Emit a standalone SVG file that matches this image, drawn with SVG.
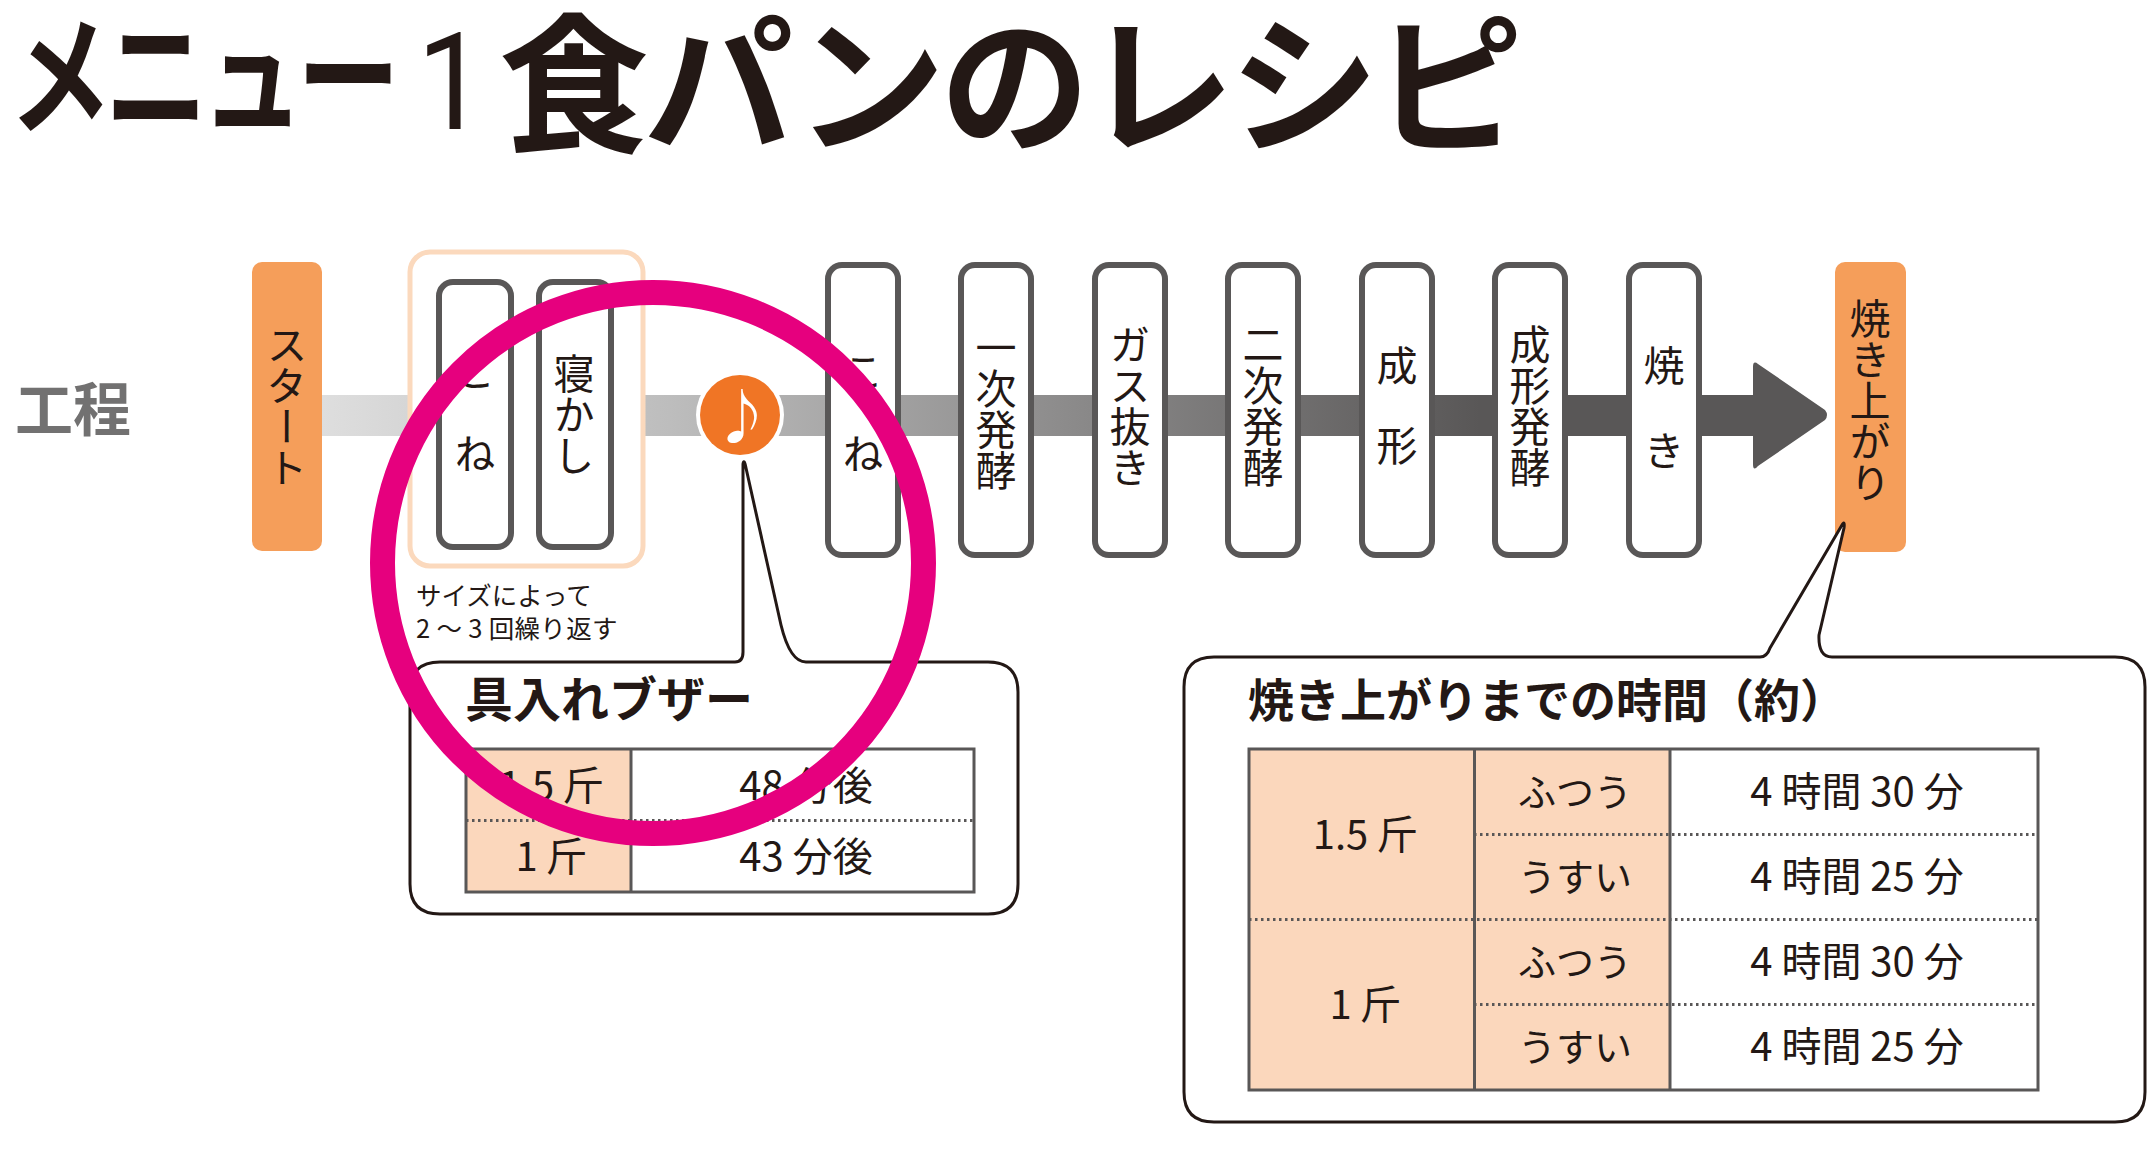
<svg xmlns="http://www.w3.org/2000/svg" width="2156" height="1150" viewBox="0 0 2156 1150">
<style>
text{font-family:"Noto Sans CJK JP","Noto Sans",sans-serif;fill:#231815}
.v{writing-mode:vertical-rl;text-orientation:mixed;font-size:41px;text-anchor:middle}
.step{fill:#fff;stroke:#595757;stroke-width:6}
.cap{fill:#f59e5a}
.call{fill:#fff;stroke:#231815;stroke-width:3;stroke-linejoin:round}
.peach{fill:#fbd7bc}
.grid{fill:none;stroke:#595757;stroke-width:3}
.dot{stroke:#595757;stroke-width:3;stroke-dasharray:2.5 3.5;fill:none}
.t{font-size:40px;text-anchor:middle}
.k{font-size:38px;text-anchor:middle}
.h{font-weight:700}
#title text{font-family:"Liberation Sans","Noto Sans CJK JP",sans-serif}
#title text.num{font-family:Roboto,sans-serif}
</style>
<defs>
<linearGradient id="flow" gradientUnits="userSpaceOnUse" x1="322" y1="0" x2="1480" y2="0">
<stop offset="0" stop-color="#dedede"/><stop offset="0.3" stop-color="#bdbdbd"/><stop offset="1" stop-color="#595757"/>
</linearGradient>
</defs>
<rect width="2156" height="1150" fill="#fff"/>
<g id="title">
<text transform="translate(9,124) scale(1,1.27)" font-size="103" class="h" letter-spacing="-7">メニュー</text>
<text class="num" transform="translate(417,129) scale(0.9,1)" font-size="136">1</text>
<text x="499" y="141" font-size="150" class="h" letter-spacing="-5.500">食パンのレシピ</text>
</g>
<text id="label-koutei" x="15" y="431" font-size="58" class="h" style="fill:#727171">工程</text>
<g id="connectors">
<rect x="322" y="395" width="1435" height="41" fill="url(#flow)"/>
<path d="M1753 367Q1753 360 1758 364L1825 410Q1829 415 1825 420L1758 466Q1753 472 1753 464Z" fill="#595757"/>
</g>
<g id="node-start"><rect class="cap" x="252" y="262" width="70" height="289" rx="10"/><text class="v" x="287" y="406">スタート</text></g>
<g id="node-repeat"><rect x="410" y="252" width="233" height="314" rx="20" fill="#fff" stroke="#fbd9bd" stroke-width="5"/>
<text x="416" y="605" font-size="25.500">サイズによって</text><text x="416" y="638" font-size="25.500" letter-spacing="0.300">2 ～ 3 回繰り返す</text></g>
<g id="node-kone1"><rect class="step" x="439" y="282" width="72" height="265" rx="14"/><text class="v" x="475" y="433" style="letter-spacing:41px">こね</text></g>
<g id="node-nekashi"><rect class="step" x="539" y="282" width="72" height="265" rx="14"/><text class="v" x="574" y="414">寝かし</text></g>
<g id="node-buzzer"><circle cx="740" cy="415" r="44" fill="#fff"/><circle cx="740" cy="415" r="40" fill="#f07525"/><text x="742" y="438" font-size="58" text-anchor="middle" style="fill:#fff">♪</text></g>
<g id="node-kone2"><rect class="step" x="828" y="265" width="70" height="290" rx="14"/><text class="v" x="863" y="433" style="letter-spacing:41px">こね</text></g>
<g id="node-ichiji"><rect class="step" x="961" y="265" width="70" height="290" rx="14"/><text class="v" x="996" y="409">一次発酵</text></g>
<g id="node-gas"><rect class="step" x="1095" y="265" width="70" height="290" rx="14"/><text class="v" x="1130" y="406">ガス抜き</text></g>
<g id="node-niji"><rect class="step" x="1228" y="265" width="70" height="290" rx="14"/><text class="v" x="1263" y="406">二次発酵</text></g>
<g id="node-seikei"><rect class="step" x="1362" y="265" width="70" height="290" rx="14"/><text class="v" x="1397" y="425" style="letter-spacing:39px">成形</text></g>
<g id="node-seikeihakko"><rect class="step" x="1495" y="265" width="70" height="290" rx="14"/><text class="v" x="1530" y="406">成形発酵</text></g>
<g id="node-yaki"><rect class="step" x="1629" y="265" width="70" height="290" rx="14"/><text class="v" x="1664" y="430" style="letter-spacing:44px">焼き</text></g>
<g id="node-end"><rect class="cap" x="1835" y="262" width="71" height="290" rx="10"/><text class="v" x="1870" y="400">焼き上がり</text></g>
<g id="callout-buzzer">
<path class="call" d="M440 662H735Q743 662 743 652V464Q744 458 746 468L781 625Q790 662 806 662H988Q1018 662 1018 692V884Q1018 914 988 914H440Q410 914 410 884V692Q410 662 440 662Z"/>
<text x="465" y="717" font-size="48" class="h">具入れブザー</text>
<rect class="peach" x="466" y="749" width="165" height="143"/>
<rect class="grid" x="466" y="749" width="508" height="143"/>
<path class="grid" d="M631 749V892"/><path class="dot" d="M466 820.500H974"/>
<text class="t" x="551" y="800">1.5 斤</text><text class="t" x="806" y="800">48 分後</text>
<text class="t" x="551" y="871">1 斤</text><text class="t" x="806" y="871">43 分後</text>
</g>
<g id="callout-time">
<path class="call" d="M1214 657H1760Q1767 657 1770 648L1842 525Q1845 520 1844 528L1819 635Q1818 657 1832 657H2115Q2145 657 2145 687V1092Q2145 1122 2115 1122H1214Q1184 1122 1184 1092V687Q1184 657 1214 657Z"/>
<text x="1248" y="717" font-size="46" class="h">焼き上がりまでの時間（約）</text>
<rect class="peach" x="1249" y="749" width="421" height="341"/>
<rect class="grid" x="1249" y="749" width="789" height="341"/>
<path class="grid" d="M1474.500 749V1090M1670 749V1090"/>
<path class="dot" d="M1474 834.500H2038M1249 919.500H2038M1474 1004.500H2038"/>
<text class="t" x="1365" y="849">1.5 斤</text><text class="t" x="1365" y="1019">1 斤</text>
<text class="k" x="1575" y="806">ふつう</text><text class="k" x="1575" y="891">うすい</text><text class="k" x="1575" y="976">ふつう</text><text class="k" x="1575" y="1061">うすい</text>
<text class="t" x="1857" y="806">4 時間 30 分</text><text class="t" x="1857" y="891">4 時間 25 分</text><text class="t" x="1857" y="976">4 時間 30 分</text><text class="t" x="1857" y="1061">4 時間 25 分</text>
</g>
<g id="highlight-ring"><circle cx="653" cy="563" r="270.500" fill="none" stroke="#e6007e" stroke-width="25"/></g>
</svg>
